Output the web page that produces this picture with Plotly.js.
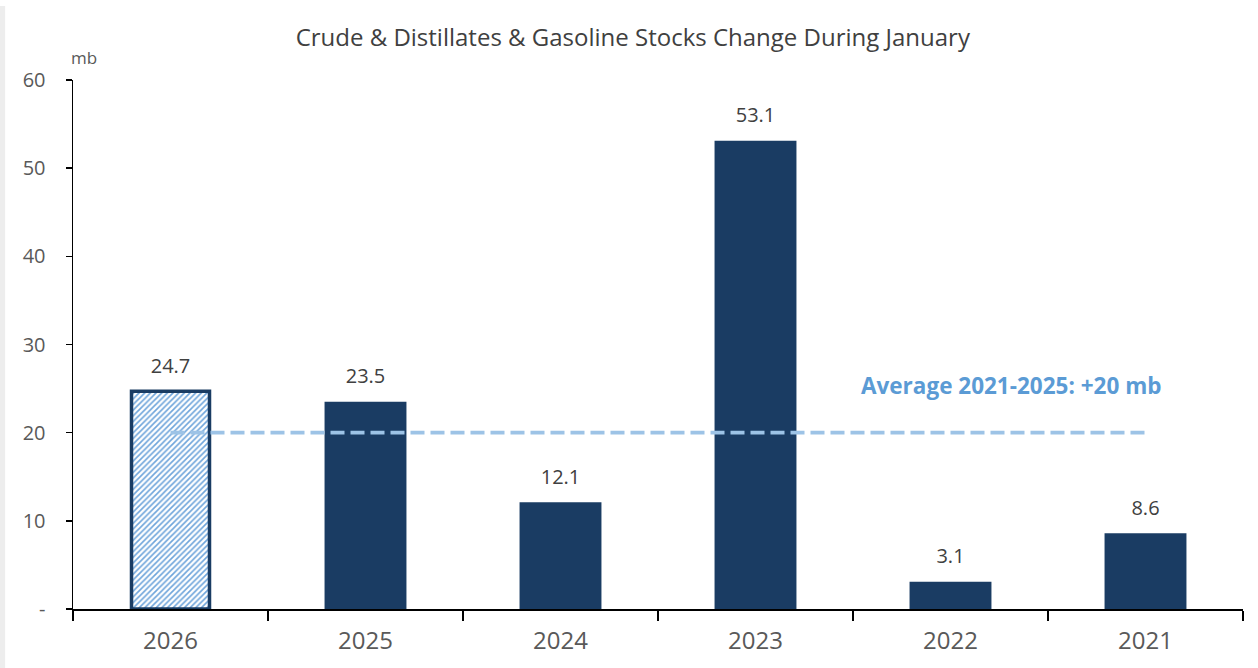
<!DOCTYPE html>
<html>
<head>
<meta charset="utf-8">
<script src="https://cdn.plot.ly/plotly-3.0.1.min.js"></script>
<style>html,body{margin:0;padding:0;background:#fff;}#chart{width:1258px;height:668px;}</style>
</head>
<body>
<div id="chart"></div>
<script>
var categories = ["2026", "2025", "2024", "2023", "2022", "2021"];
var stockChange = [24.7, 23.5, 12.1, 53.1, 3.1, 8.6];
var averageValue = [20, 20, 20, 20, 20, 20];
var yTickVals = [0, 10, 20, 30, 40, 50, 60];
var yTickText = ["-", "10", "20", "30", "40", "50", "60"];
var avgLabel = "Average 2021-2025: +20 mb";
var titleText = "Crude & Distillates & Gasoline Stocks Change During January";

var curX = categories.slice(0, 1), curY = stockChange.slice(0, 1);
var pastX = categories.slice(1), pastY = stockChange.slice(1);
function fmt(a){ return a.map(function(v){ return v.toFixed(1); }); }

var traces = [
  {
    type: "bar", x: pastX, y: pastY, width: 0.42,
    marker: {color: "#1A3C63"},
    hoverinfo: "x+y", showlegend: false
  },
  {
    type: "bar", x: curX, y: curY, width: 0.4,
    marker: {color: "#ffffff",
      pattern: {shape: "/", fgcolor: "#6FA5DB", bgcolor: "#ffffff", size: 4, solidity: 0.4, fillmode: "replace"},
      line: {color: "#1A3C63", width: 3.5}},
    hoverinfo: "x+y", showlegend: false
  },
  {
    type: "scatter", mode: "lines", x: categories, y: averageValue,
    line: {color: "#9DC3E6", width: 3.8, dash: "14px,6px"},
    hoverinfo: "skip", showlegend: false
  },
  {
    type: "scatter", mode: "markers+text", x: categories, y: stockChange,
    text: fmt(stockChange), textposition: "top center", cliponaxis: false,
    marker: {size: 20, opacity: 0},
    textfont: {family: "Open Sans", size: 20, color: "#404040"},
    hoverinfo: "skip", showlegend: false
  }
];

var layout = {
  width: 1258, height: 668,
  paper_bgcolor: "#ffffff", plot_bgcolor: "#ffffff",
  margin: {l: 73, r: 15, t: 80, b: 59},
  barmode: "overlay",
  title: {text: titleText, x: 0.503, xanchor: "center", y: 0.943, yanchor: "middle",
    font: {family: "Open Sans", size: 24, color: "#404040"}},
  xaxis: {
    type: "category", categoryorder: "array", categoryarray: categories,
    range: [-0.5, categories.length - 0.5], autorange: false,
    showline: true, linecolor: "#000000", linewidth: 1.5,
    ticks: "outside", tickson: "boundaries", ticklen: 10, tickcolor: "#000000", tickwidth: 1.5,
    showgrid: false, zeroline: false, tickangle: 0,
    tickfont: {family: "Open Sans", size: 24, color: "#595959"}, ticklabelstandoff: 10
  },
  yaxis: {
    range: [0, 60], autorange: false, tickvals: yTickVals, ticktext: yTickText,
    showline: true, linecolor: "#000000", linewidth: 1.5,
    ticks: "outside", ticklen: 6, tickcolor: "#000000", tickwidth: 1.5,
    showgrid: false, zeroline: false,
    tickfont: {family: "Open Sans", size: 20, color: "#595959"}, ticklabelstandoff: 16
  },
  annotations: [
    {xref: "paper", yref: "paper", x: 0.0, y: 1.0, xshift: 11, yshift: 9, text: "mb", showarrow: false,
      xanchor: "center", yanchor: "bottom", font: {family: "Open Sans", size: 17, color: "#595959"}},
    {xref: "x", yref: "y", x: categories.indexOf("2022"), y: 25.4, xshift: 60, text: "<b>" + avgLabel + "</b>", showarrow: false,
      xanchor: "center", yanchor: "middle", font: {family: "Open Sans", size: 22.5, color: "#5B9BD5"}}
  ],
  shapes: [
    {type: "rect", xref: "paper", yref: "paper", x0: -0.0624, x1: -0.058, y0: -0.12, y1: 1.14,
      fillcolor: "#EDEDED", line: {width: 0}}
  ]
};

Plotly.newPlot("chart", traces, layout, {displayModeBar: false, staticPlot: true});
</script>
</body>
</html>
